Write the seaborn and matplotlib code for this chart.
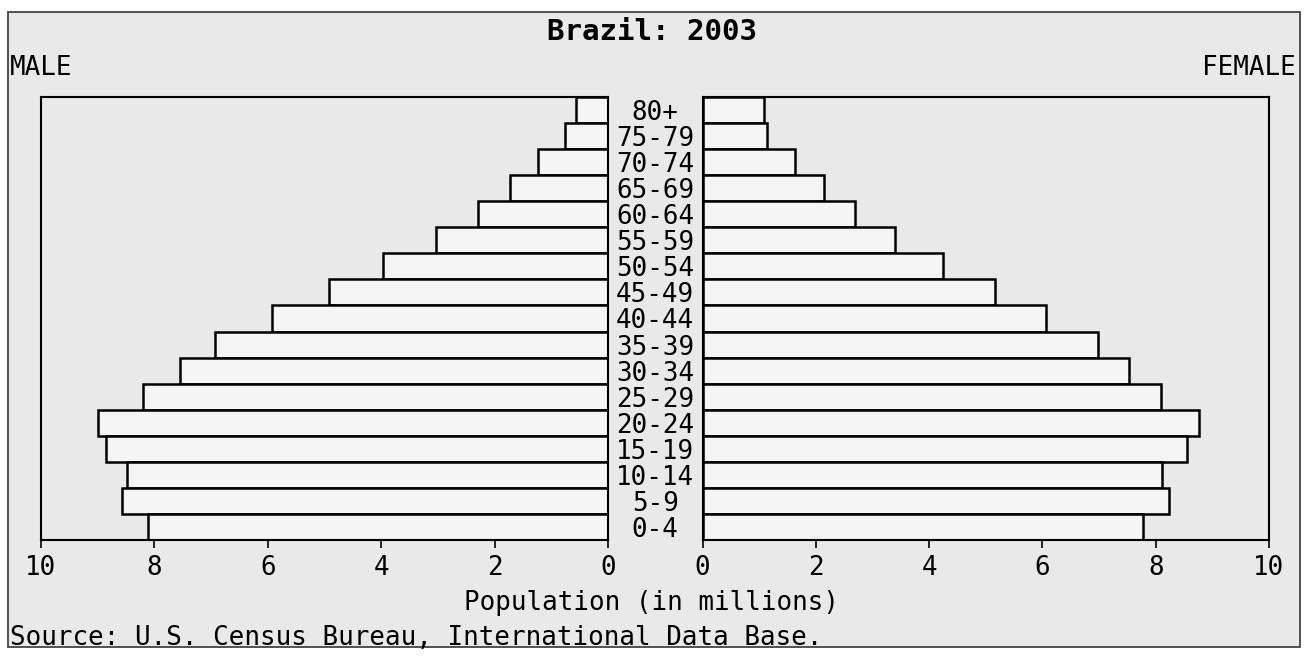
import matplotlib
matplotlib.use("Agg")
import matplotlib.pyplot as plt
import matplotlib.patches as patches
import pandas as pd
import seaborn as sns

# age groups, top to bottom
ages = ["80+", "75-79", "70-74", "65-69", "60-64", "55-59", "50-54", "45-49",
        "40-44", "35-39", "30-34", "25-29", "20-24", "15-19", "10-14", "5-9", "0-4"]
# population in millions
male = [0.57, 0.75, 1.24, 1.73, 2.30, 3.04, 3.97, 4.92,
        5.93, 6.94, 7.54, 8.20, 9.00, 8.86, 8.48, 8.57, 8.11]
female = [1.08, 1.14, 1.64, 2.15, 2.69, 3.39, 4.25, 5.17,
          6.06, 6.99, 7.53, 8.10, 8.77, 8.55, 8.12, 8.23, 7.77]
xticks = [0, 2, 4, 6, 8, 10]

df = pd.DataFrame({"age": ages, "male": male, "female": female})

bg = "#e9e9e9"
bar_col = "#f5f5f5"
fs = 18.6
plt.rcParams["font.family"] = "DejaVu Sans Mono"

fig = plt.figure(figsize=(13.08, 6.57), dpi=100)
fig.patch.set_facecolor("white")
fig.add_artist(patches.Rectangle((8 / 1308, 10 / 657), 1292 / 1308, 635 / 657,
                                 transform=fig.transFigure, facecolor=bg,
                                 edgecolor="#444444", linewidth=1.3, zorder=-1))

ax_l = fig.add_axes([41 / 1308, 117 / 657, 567 / 1308, 443 / 657])
ax_r = fig.add_axes([702.5 / 1308, 117 / 657, 566.5 / 1308, 443 / 657])

sns.barplot(data=df, x="male", y="age", order=ages, ax=ax_l, color=bar_col,
            saturation=1, width=1.0, edgecolor="black", linewidth=1.8, errorbar=None)
sns.barplot(data=df, x="female", y="age", order=ages, ax=ax_r, color=bar_col,
            saturation=1, width=1.0, edgecolor="black", linewidth=1.8, errorbar=None)

ax_l.set_xlim(10, 0)
ax_r.set_xlim(0, 10)

for ax in (ax_l, ax_r):
    ax.set_facecolor(bg)
    ax.set_xlabel("")
    ax.set_ylabel("")
    ax.set_xticks(xticks)
    ax.set_xticklabels([str(t) for t in xticks])
    ax.tick_params(axis="x", direction="out", length=6, width=1.2, pad=5,
                   labelsize=fs)
    for s in ax.spines.values():
        s.set_linewidth(1.5)
        s.set_color("black")

ax_l.tick_params(axis="y", left=False, labelleft=False)
ax_r.tick_params(axis="y", left=False, length=0, pad=34, labelsize=fs)
for lab in ax_r.get_yticklabels():
    lab.set_horizontalalignment("center")

fig.text(0.4985, 1 - 32 / 657, "Brazil: 2003", ha="center", va="center",
         fontsize=21, fontweight="bold")
fig.text(10 / 1308, 1 - 68 / 657, "MALE", ha="left", va="center", fontsize=fs)
fig.text(1296 / 1308, 1 - 68 / 657, "FEMALE", ha="right", va="center", fontsize=fs)
fig.text(652 / 1308, 1 - 603 / 657, "Population (in millions)", ha="center",
         va="center", fontsize=fs)
fig.text(10 / 1308, 1 - 638 / 657, "Source: U.S. Census Bureau, International Data Base.",
         ha="left", va="center", fontsize=fs)

fig.savefig("out.png", dpi=100, facecolor=fig.get_facecolor())
